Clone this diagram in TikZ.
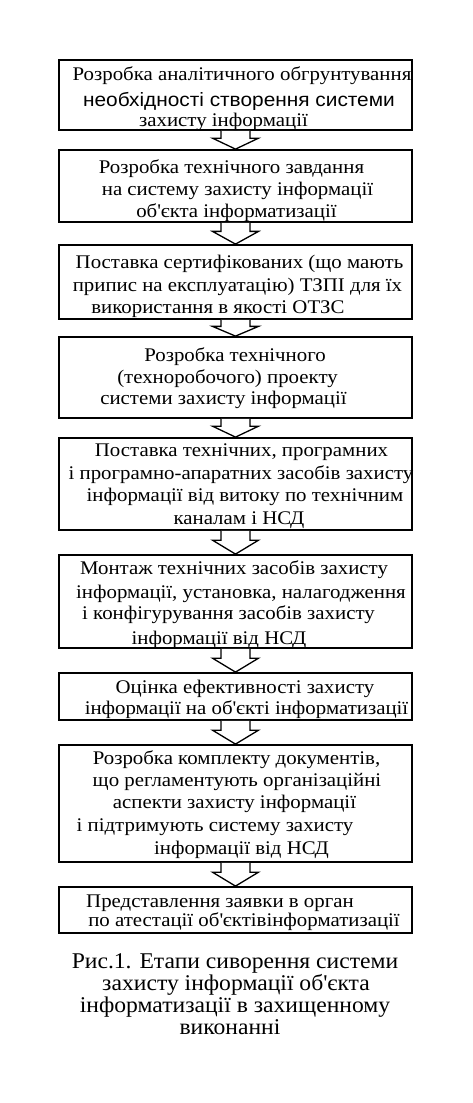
\documentclass[tikz,border=0pt]{standalone}
\usepackage{fontspec}
\setmainfont{Liberation Serif}[FakeStretch=1.08]
\newfontfamily\arialf{Liberation Sans}[FakeStretch=1.08]
\newfontfamily\capfont{Liberation Serif}[FakeStretch=1.05]
\usetikzlibrary{calc}
\newcommand{\ap}{\textquotesingle}
\begin{document}
\begin{tikzpicture}[x=1pt,y=-1pt,
  box/.style={draw=black, line width=1.8pt, rectangle, minimum width=353pt, inner sep=0pt},
  ln/.style={anchor=base, inner sep=0pt, font=\fontsize{19.3}{22}\selectfont},
  captxt/.style={anchor=base, inner sep=0pt, font=\fontsize{22.5}{24}\capfont},
  blk/.style={draw=black, line width=1.3pt, fill=white, line join=miter}]
\useasboundingbox (0,0) rectangle (472,1103);
% boxes
\node[box, minimum height=70pt] (b1) at (235.5,95) {};
\node[box, minimum height=72pt] (b2) at (235.5,186) {};
\node[box, minimum height=74pt] (b3) at (235.5,282) {};
\node[box, minimum height=81pt] (b4) at (235.5,377.5) {};
\node[box, minimum height=92pt] (b5) at (235.5,484) {};
\node[box, minimum height=93pt] (b6) at (235.5,601.5) {};
\node[box, minimum height=47pt] (b7) at (235.5,696.5) {};
\node[box, minimum height=117pt] (b8) at (235.5,803.5) {};
\node[box, minimum height=46pt] (b9) at (235.5,910) {};
% arrows
\foreach \a/\b in {b1/b2,b2/b3,b3/b4,b4/b5,b5/b6,b6/b7,b7/b8,b8/b9}{
  \draw[blk] let \p1=(\a.south), \p2=(\b.north) in
    (\x1-14.5pt,\y1) -- (\x1-14.5pt,{0.6*\y1+0.4*\y2}) -- (\x1-23pt,{0.6*\y1+0.4*\y2})
    -- (\x1,\y2) -- (\x1+23pt,{0.6*\y1+0.4*\y2}) -- (\x1+14.5pt,{0.6*\y1+0.4*\y2}) -- (\x1+14.5pt,\y1);
}
% box 1
\node[ln] (t11) at (242,80) {Розробка аналітичного обгрунтування};
\node[ln, font=\fontsize{19.3}{22}\arialf] (t12) at (239,106) {необхідності створення системи};
\node[ln] (t13) at (223.5,126) {захисту інформації};
% box 2
\node[ln] (t21) at (231.5,173) {Розробка технічного завдання};
\node[ln] (t22) at (237.5,195) {на систему захисту інформації};
\node[ln] (t23) at (236.5,217) {об\ap єкта інформатизації};
% box 3
\node[ln] (t31) at (239.5,268) {Поставка сертифікованих (що мають};
\node[ln] (t32) at (237.5,291) {припис на експлуатацію) ТЗПІ для їх};
\node[ln] (t33) at (218,313) {використання в якості ОТЗС};
% box 4
\node[ln] (t41) at (235,361) {Розробка технічного};
\node[ln] (t42) at (227.5,383) {(техноробочого) проекту};
\node[ln] (t43) at (223.5,404) {системи захисту інформації};
% box 5
\node[ln] (t51) at (241.5,456) {Поставка технічних, програмних};
\node[ln] (t52) at (241,479) {і програмно-апаратних засобів захисту};
\node[ln] (t53) at (245,501) {інформації від витоку по технічним};
\node[ln] (t54) at (239,524) {каналам і НСД};
% box 6
\node[ln] (t61) at (234,574) {Монтаж технічних засобів захисту};
\node[ln] (t62) at (241,598) {інформації, установка, налагодження};
\node[ln] (t63) at (228.5,619) {і конфігурування засобів захисту};
\node[ln] (t64) at (219,644) {інформації від НСД};
% box 7
\node[ln] (t71) at (245,693) {Оцінка ефективності захисту};
\node[ln] (t72) at (246.5,714) {інформації на об\ap єкті інформатизації};
% box 8
\node[ln] (t81) at (236.5,764) {Розробка комплекту документів,};
\node[ln] (t82) at (237,786) {що регламентують організаційні};
\node[ln] (t83) at (234.5,808) {аспекти захисту інформації};
\node[ln] (t84) at (215,831) {і підтримують систему захисту};
\node[ln] (t85) at (241.5,854) {інформації від НСД};
% box 9
\node[ln] (t91) at (220,907) {Представлення заявки в орган};
\node[ln] (t92) at (244,926) {по атестації об\ap єктівінформатизації};
% caption
\node[captxt] (c1) at (235,968) {Рис.1. Етапи сиворення системи};
\node[captxt] (c2) at (236,990) {захисту інформації об\ap єкта};
\node[captxt] (c3) at (235,1012) {інформатизації в захищенному};
\node[captxt] (c4) at (230,1034) {виконанні};
\end{tikzpicture}
\end{document}
